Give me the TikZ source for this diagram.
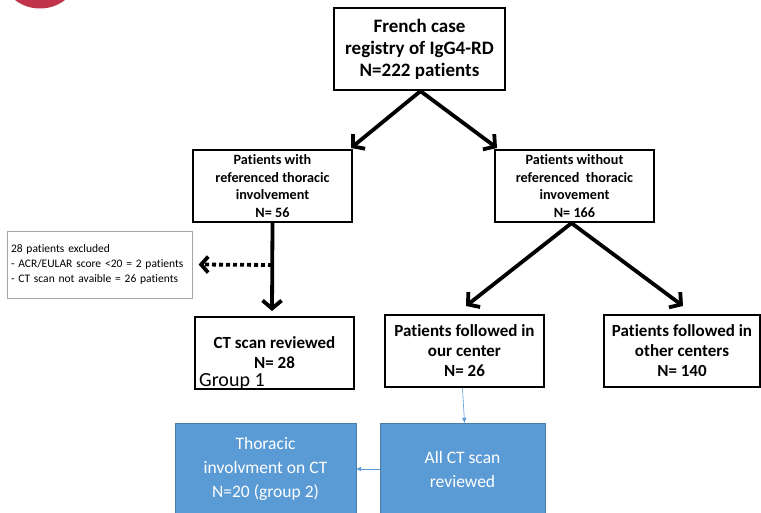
\documentclass[tikz,border=0pt]{standalone}
\usepackage{fontspec}
\setmainfont{Carlito}[Ligatures=NoCommon]
\usetikzlibrary{arrows.meta}
\definecolor{boxblue}{HTML}{5B9BD5}
\definecolor{logored}{HTML}{C0334A}
\tikzset{
  wbox/.style={draw=black, line width=2.2pt, fill=white, align=center, inner sep=2pt},
  bigarrow/.style={line width=3.8pt, -{Straight Barb[length=8pt,width=19pt]}},
  dotarrow/.style={line width=3.8pt, dash pattern=on 4pt off 3pt, -{Straight Barb[length=7pt,width=16pt]}},
  bluebox/.style={draw=boxblue!80!black, line width=0.4pt, fill=boxblue, text=white, align=center, font=\fontsize{17.5}{24}\selectfont},
  thinarrow/.style={draw=boxblue, line width=0.6pt, -{Triangle[length=5pt,width=4pt]}},
}
\begin{document}
\begin{tikzpicture}[x=1pt,y=-1pt]
\useasboundingbox (0,0) rectangle (761,513);
\fill[white] (0,0) rectangle (761,513);
\begin{scope}
\clip (0,0) rectangle (761,513);
\fill[logored] (40,-32.5) circle (41);
\end{scope}

\node[wbox, minimum width=171pt, minimum height=82pt, font=\bfseries\fontsize{19}{22}\selectfont] (top) at (419.5,49)
  {French case\\registry of IgG4-RD\\N=222 patients};
\node[wbox, minimum width=159pt, minimum height=72pt, font=\bfseries\fontsize{14.2}{17.5}\selectfont] (with) at (272.5,186)
  {Patients with\\referenced thoracic\\involvement\\N= 56};
\node[wbox, minimum width=159pt, minimum height=72pt, font=\bfseries\fontsize{14.2}{17.5}\selectfont] (without) at (574.5,186)
  {Patients without\\referenced\ \ thoracic\\invovement\\N= 166};
\node[draw=gray!70, line width=0.6pt, minimum width=184pt, minimum height=67pt, align=left, text width=178pt, font=\fontsize{11.5}{15}\selectfont] (excl) at (100,264.5)
  {28 patients excluded\\- ACR/EULAR score <20 = 2 patients\\- CT scan not avaible = 26 patients};
\node[wbox, minimum width=159pt, minimum height=72pt, font=\bfseries\fontsize{17}{20}\selectfont] (ct) at (274.5,353)
  {CT scan reviewed\\N= 28};
\node[anchor=base west, inner sep=0pt, font=\fontsize{20}{22}\selectfont] (g1) at (199,386) {Group 1};
\node[wbox, minimum width=159pt, minimum height=72pt, font=\bfseries\fontsize{17}{20}\selectfont] (our) at (464.5,351)
  {Patients followed in\\our center\\N= 26};
\node[wbox, minimum width=156pt, minimum height=72pt, font=\bfseries\fontsize{17}{20}\selectfont] (other) at (682,351)
  {Patients followed in\\other centers\\N= 140};
\node[bluebox, minimum width=181pt, minimum height=92pt] (thor) at (265.5,469)
  {Thoracic\\involvment on CT\\N=20 (group 2)};
\node[bluebox, minimum width=165pt, minimum height=92pt] (allct) at (462.5,469)
  {All CT scan\\reviewed};

\coordinate (t1) at (351,148);
\coordinate (t2) at (497,148);
\coordinate (t3) at (466,306);
\coordinate (t4) at (683,306);
\coordinate (t5) at (272,311);
\coordinate (d0) at (272,265);
\draw[bigarrow] (top.south) ++(1,0) coordinate (s1) -- (t1);
\draw[bigarrow] (s1) -- (t2);
\draw[bigarrow] ([xshift=-3pt]without.south) coordinate (s2) -- (t3);
\draw[bigarrow] (s2) -- (t4);
\draw[bigarrow] (with.south) -- (t5);
\draw[dotarrow] (d0) -- ([xshift=6pt]excl.east);
\draw[thinarrow] ([xshift=-2pt]our.south) -- ([xshift=2pt]allct.north);
\draw[thinarrow] (allct.west) -- (thor.east);
\end{tikzpicture}
\end{document}
